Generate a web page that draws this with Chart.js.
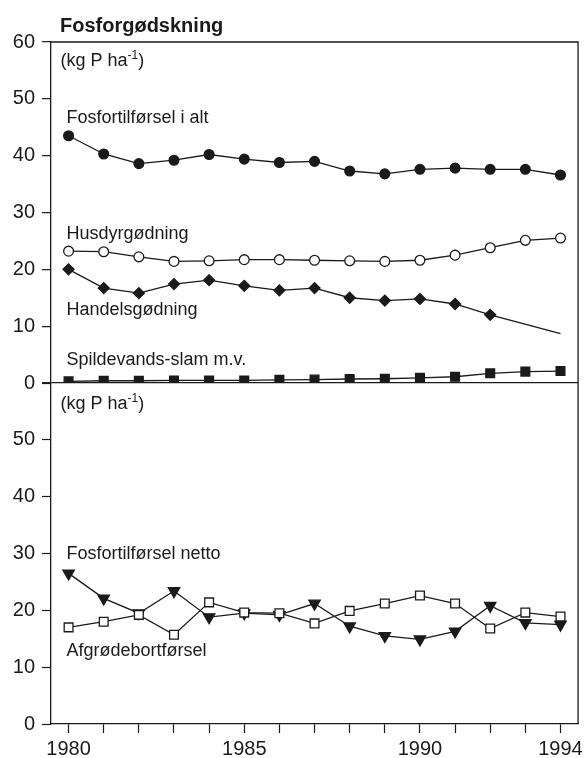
<!DOCTYPE html>
<html>
<head>
<meta charset="utf-8">
<script src="https://cdn.jsdelivr.net/npm/chart.js@4.4.1/dist/chart.umd.min.js"></script>
<style>
html, body { margin: 0; padding: 0; background: #fff; }
#wrap { width: 587px; height: 758px; position: relative; }
</style>
</head>
<body>
<div id="wrap"><canvas id="chart"></canvas></div>
<script>
// DATA (kg P ha-1)
const years = ["1980","1981","1982","1983","1984","1985","1986","1987","1988","1989","1990","1991","1992","1993","1994"];
const shownYears = ["1980", "1985", "1990", "1994"];
const yTicksTop = [0, 10, 20, 30, 40, 50, 60];
const yTicksBottom = [0, 10, 20, 30, 40, 50];

// top panel
const tilforselIAlt = [43.5, 40.3, 38.6, 39.2, 40.2, 39.4, 38.8, 39.0, 37.3, 36.8, 37.6, 37.8, 37.6, 37.6, 36.6];
const husdyrgodning = [23.2, 23.1, 22.2, 21.4, 21.5, 21.7, 21.7, 21.6, 21.5, 21.4, 21.6, 22.5, 23.8, 25.1, 25.5];
const handelsgodning = [20.0, 16.7, 15.8, 17.4, 18.1, 17.1, 16.3, 16.7, 15.0, 14.5, 14.8, 13.9, 12.0, null, 8.7];
const spildevandsslam = [0.3, 0.4, 0.4, 0.45, 0.45, 0.45, 0.55, 0.6, 0.7, 0.75, 0.9, 1.1, 1.7, 2.0, 2.1];

// bottom panel
const tilforselNetto = [26.5, 22.1, 19.5, 23.4, 18.8, 19.5, 19.2, 21.2, 17.2, 15.5, 14.9, 16.3, 20.8, 17.8, 17.5];
const afgrodebortforsel = [17.0, 18.0, 19.2, 15.7, 21.4, 19.6, 19.5, 17.7, 19.9, 21.2, 22.6, 21.2, 16.8, 19.6, 18.9];

const INK = "#1a1a1a";
const FONT = "'Liberation Sans', Arial, sans-serif";

// text labels placed in data coordinates (x = category index, y = value)
const notes = [
    { text: "Fosfortilførsel i alt", x: -0.06, y: 45.8, axis: "yUpper" },
    { text: "Husdyrgødning", x: -0.06, y: 25.3, axis: "yUpper" },
    { text: "Handelsgødning", x: -0.06, y: 11.9, axis: "yUpper" },
    { text: "Spildevands-slam m.v.", x: -0.06, y: 3.1, axis: "yUpper" },
    { text: "Fosfortilførsel netto", x: -0.06, y: 29.1, axis: "yLower" },
    { text: "Afgrødebortførsel", x: -0.06, y: 11.9, axis: "yLower" }
];
const unitNotes = [
    { x: -0.23, y: 55.85, axis: "yUpper" },
    { x: -0.23, y: 55.4, axis: "yLower" }
];

function line(label, data, axis, style, radius, fill, extra) {
    return Object.assign({
        label: label,
        data: data,
        yAxisID: axis,
        borderColor: INK,
        borderWidth: 1.3,
        tension: 0,
        pointStyle: style,
        pointRadius: radius,
        pointBackgroundColor: fill,
        pointBorderColor: INK,
        pointBorderWidth: 1.3
    }, extra || {});
}

const textPlugin = {
    id: "texts",
    afterDraw(chart) {
        const ctx = chart.ctx;
        const xs = chart.scales.x;
        const area = chart.chartArea;
        ctx.save();

        // frame: top and right edge
        ctx.strokeStyle = INK;
        ctx.lineWidth = 1.3;
        ctx.beginPath();
        ctx.moveTo(area.left, area.top);
        ctx.lineTo(area.right, area.top);
        ctx.lineTo(area.right, area.bottom);
        ctx.stroke();

        ctx.fillStyle = INK;
        ctx.textBaseline = "alphabetic";
        ctx.textAlign = "left";

        // title
        ctx.font = "bold 20px " + FONT;
        ctx.fillText("Fosforgødskning", area.left + 9, area.top - 10);

        ctx.font = "18px " + FONT;
        notes.forEach(n => {
            ctx.fillText(n.text, xs.getPixelForValue(n.x), chart.scales[n.axis].getPixelForValue(n.y));
        });

        // unit label with superscript
        unitNotes.forEach(n => {
            let px = xs.getPixelForValue(n.x);
            const py = chart.scales[n.axis].getPixelForValue(n.y);
            ctx.font = "18px " + FONT;
            ctx.fillText("(kg P ha", px, py);
            px += ctx.measureText("(kg P ha").width;
            ctx.font = "12px " + FONT;
            ctx.fillText("-1", px, py - 7);
            px += ctx.measureText("-1").width;
            ctx.font = "18px " + FONT;
            ctx.fillText(")", px, py);
        });
        ctx.restore();
    }
};

const tickFont = { family: FONT, size: 20 };

new Chart(document.getElementById("chart"), {
    type: "line",
    data: {
        labels: years,
        datasets: [
            line("Fosfortilførsel i alt", tilforselIAlt, "yUpper", "circle", 4.9, INK),
            line("Husdyrgødning", husdyrgodning, "yUpper", "circle", 4.9, "#fff"),
            line("Handelsgødning", handelsgodning, "yUpper", "rectRot", 5.5, INK,
                { spanGaps: true, pointRadius: handelsgodning.map((v, i) => i === years.length - 1 ? 0 : 5.5) }),
            line("Spildevands-slam m.v.", spildevandsslam, "yUpper", "rect", 6.2, INK),
            line("Afgrødebortførsel", afgrodebortforsel, "yLower", "rect", 6.2, "#fff"),
            line("Fosfortilførsel netto", tilforselNetto, "yLower", "triangle", 6.6, INK, { pointRotation: 180 })
        ]
    },
    options: {
        responsive: true,
        maintainAspectRatio: false,
        animation: false,
        layout: { padding: { top: 42, right: 8, left: 0, bottom: 0 } },
        plugins: {
            legend: { display: false },
            tooltip: { enabled: false }
        },
        scales: {
            x: {
                offset: true,
                grid: { offset: false, drawOnChartArea: false, tickLength: 9, tickColor: INK, tickWidth: 1.2 },
                border: { display: true, color: INK, width: 1.3 },
                ticks: {
                    color: INK,
                    font: tickFont,
                    padding: 4,
                    maxRotation: 0,
                    autoSkip: false,
                    callback: (v, i) => shownYears.includes(years[i]) ? years[i] : ""
                },
                afterFit: s => { s.height = 34; }
            },
            yLower: {
                type: "linear",
                position: "left",
                stack: "panels",
                stackWeight: 1,
                min: 0,
                max: 60,
                afterBuildTicks: s => { s.ticks = yTicksTop.map(v => ({ value: v })); },
                grid: { drawOnChartArea: false, tickLength: 9, tickColor: INK, tickWidth: 1.2 },
                border: { display: true, color: INK, width: 1.3 },
                ticks: {
                    color: INK,
                    font: tickFont,
                    padding: 7,
                    callback: v => yTicksBottom.includes(v) ? String(v) : ""
                },
                afterFit: s => { s.width = 51; }
            },
            yUpper: {
                type: "linear",
                position: "left",
                stack: "panels",
                stackWeight: 1,
                min: 0,
                max: 60,
                afterBuildTicks: s => { s.ticks = yTicksTop.map(v => ({ value: v })); },
                grid: {
                    drawOnChartArea: true,
                    color: c => (c.tick && c.tick.value === 0) ? INK : "rgba(0,0,0,0)",
                    lineWidth: 1.3,
                    tickLength: 9,
                    tickColor: INK,
                    tickWidth: 1.2
                },
                border: { display: true, color: INK, width: 1.3 },
                ticks: {
                    color: INK,
                    font: tickFont,
                    padding: 7,
                    callback: v => String(v)
                },
                afterFit: s => { s.width = 51; }
            }
        }
    },
    plugins: [textPlugin]
});
</script>
</body>
</html>
